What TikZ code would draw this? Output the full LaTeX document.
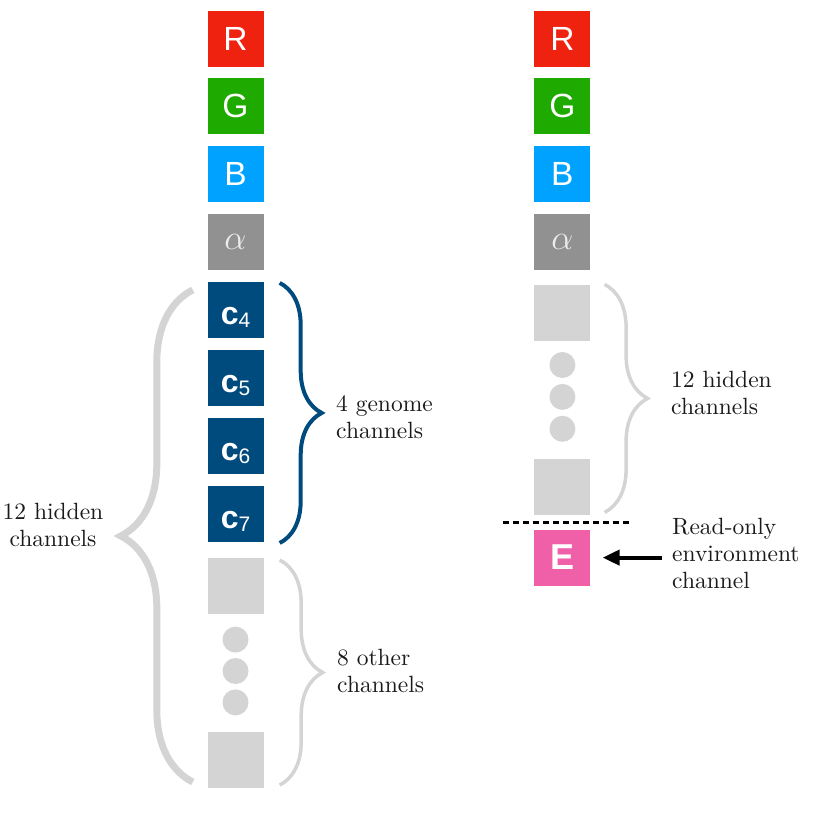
\RequirePackage{fix-cm}
\documentclass[tikz,border=0pt]{standalone}
\usepackage{fontspec}
\newfontfamily\sqfont{Liberation Sans}
\newfontfamily\lblfont{lmroman10-regular}[Extension=.otf]
\usetikzlibrary{positioning,arrows.meta,decorations.pathreplacing}

\definecolor{chred}{HTML}{EF2210}
\definecolor{chgreen}{HTML}{1FAA00}
\definecolor{chblue}{HTML}{00A2FF}
\definecolor{chalpha}{HTML}{919191}
\definecolor{genome}{HTML}{004B7D}
\definecolor{hidden}{HTML}{D4D4D4}
\definecolor{envpink}{HTML}{EF60A8}
\definecolor{lbltext}{HTML}{1A1A1A}

\begin{document}
\begin{tikzpicture}[node distance=11.5pt,
  sq node/.style={rectangle,minimum size=56pt,inner sep=0pt,text=white,font=\sqfont\fontsize{33.5}{33.5}\selectfont},
  alpha node/.style={sq node,fill=chalpha,text=white!93!black,font=\fontsize{35}{35}\selectfont},
  gen node/.style={sq node,fill=genome,text height=28.6pt,text depth=0pt,font=\sqfont\bfseries\fontsize{32}{32}\selectfont},
  hid node/.style={rectangle,fill=hidden,minimum size=56pt,inner sep=0pt},
  dot node/.style={circle,fill=hidden,minimum size=26pt,inner sep=0pt},
  txt node/.style={inner sep=0pt,align=left,text=lbltext,font=\lblfont\fontsize{23.5}{27}\selectfont},
  big brace/.style={decorate,draw=hidden,line width=7pt,decoration={brace,amplitude=72pt}},
  gen brace/.style={decorate,draw=genome,line width=4pt,decoration={brace,amplitude=42pt}},
  hid brace/.style={decorate,draw=hidden,line width=3.5pt,decoration={brace,amplitude=43pt}},
  cut line/.style={line width=2.7pt,dash pattern=on 6pt off 4pt},
  read arrow/.style={-{Triangle[length=17pt,width=15pt]},line width=4pt}]

  \useasboundingbox (0pt,0pt) rectangle (830pt,-812pt);

  % left column
  \node[sq node,fill=chred] (r1) at (235.5pt,-38.5pt) {R};
  \node[sq node,fill=chgreen] (g1) [below=of r1] {G};
  \node[sq node,fill=chblue] (b1) [below=of g1] {B};
  \node[alpha node] (a1) [below=of b1] {$\alpha$};
  \node[gen node] (c4) [below=of a1] {c\raisebox{-3pt}{\mdseries\fontsize{21}{21}\selectfont 4}};
  \node[gen node] (c5) [below=of c4] {c\raisebox{-3pt}{\mdseries\fontsize{21}{21}\selectfont 5}};
  \node[gen node] (c6) [below=of c5] {c\raisebox{-3pt}{\mdseries\fontsize{21}{21}\selectfont 6}};
  \node[gen node] (c7) [below=of c6] {c\raisebox{-3pt}{\mdseries\fontsize{21}{21}\selectfont 7}};
  \node[hid node] (h1) [below=16pt of c7] {};
  \node[dot node] (d1) [below=12pt of h1] {};
  \node[dot node] (d2) [below=5pt of d1] {};
  \node[dot node] (d3) [below=5pt of d2] {};
  \node[hid node] (h2) [below=16pt of d3] {};

  % right column
  \node[sq node,fill=chred] (r2) [right=270.5pt of r1] {R};
  \node[sq node,fill=chgreen] (g2) [below=of r2] {G};
  \node[sq node,fill=chblue] (b2) [below=of g2] {B};
  \node[alpha node] (a2) [below=of b2] {$\alpha$};
  \node[hid node] (h3) [below=14pt of a2] {};
  \node[dot node] (d4) [below=11pt of h3] {};
  \node[dot node] (d5) [below=5.5pt of d4] {};
  \node[dot node] (d6) [below=5.5pt of d5] {};
  \node[hid node] (h4) [below=17pt of d6] {};
  \node[sq node,fill=envpink,font=\sqfont\bfseries\fontsize{36}{36}\selectfont] (e) [below=14pt of h4] {E};

  % braces
  \draw[big brace] ([xshift=-14.5pt,yshift=6pt]h2.south west) -- ([xshift=-14.5pt,yshift=-8pt]c4.north west);
  \draw[gen brace] ([xshift=16pt,yshift=-1pt]c4.north east) -- ([xshift=16pt,yshift=-1pt]c7.south east);
  \draw[hid brace] ([xshift=16pt,yshift=-2pt]h1.north east) -- ([xshift=16pt,yshift=3pt]h2.south east);
  \draw[hid brace] ([xshift=14pt]h3.north east) -- ([xshift=14pt,yshift=3pt]h4.south east);

  % labels
  \node[txt node,align=center,anchor=east] (hidl) at (103.5pt,-525pt) {12 hidden\\channels};
  \node[txt node,anchor=west] (gentxt) at (336pt,-417pt) {4 genome\\channels};
  \node[txt node,anchor=west] (othtxt) at (337pt,-671pt) {8 other\\channels};
  \node[txt node,anchor=west] (hidr) at (671pt,-393pt) {12 hidden\\channels};
  \node[txt node,anchor=west] (envtxt) at (672pt,-553.5pt) {Read-only\\environment\\channel};

  \draw[cut line] ([xshift=-59pt,yshift=-7pt]h4.south) -- ([xshift=68pt,yshift=-7pt]h4.south);
  \draw[read arrow,shorten <=10pt,shorten >=12pt] (e.east -| envtxt.west) -- (e.east);

\end{tikzpicture}
\end{document}
